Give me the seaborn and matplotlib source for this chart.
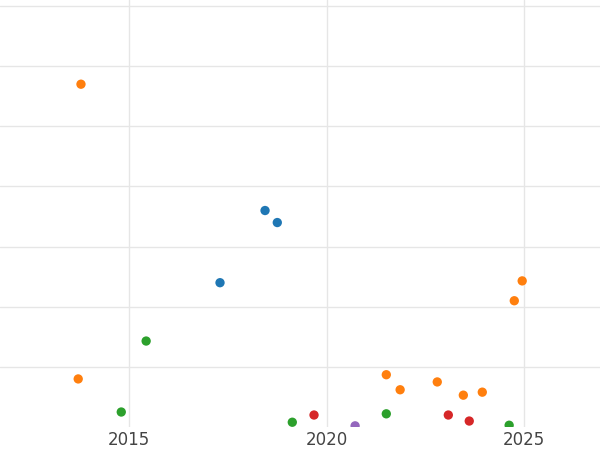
import matplotlib
matplotlib.use("Agg")
import matplotlib.pyplot as plt
import seaborn as sns
import pandas as pd

years_orange = [2013.78, 2013.71, 2021.51, 2021.86, 2022.80, 2023.46, 2023.94, 2024.75, 2024.95]
vals_orange = [5.70, 0.80, 0.87, 0.62, 0.75, 0.53, 0.58, 2.10, 2.43]
years_blue = [2018.44, 2018.75, 2017.30]
vals_blue = [3.60, 3.40, 2.40]
years_green = [2015.43, 2014.80, 2019.13, 2021.51, 2024.62]
vals_green = [1.43, 0.25, 0.08, 0.22, 0.03]
years_red = [2019.68, 2023.08, 2023.61]
vals_red = [0.20, 0.20, 0.10]
years_purple = [2020.72]
vals_purple = [0.02]

groups = [("A", years_blue, vals_blue), ("B", years_orange, vals_orange),
          ("C", years_green, vals_green), ("D", years_red, vals_red),
          ("E", years_purple, vals_purple)]
rows = []
for g, xs, ys in groups:
    for x, y in zip(xs, ys):
        rows.append({"year": x, "value": y, "group": g})
df = pd.DataFrame(rows)

sns.set_theme(style="whitegrid")
fig = plt.figure(figsize=(6, 4.5), dpi=100)
ax = fig.add_axes([0, 0.051, 1, 0.949])
palette = {"A": "#1f77b4", "B": "#ff7f0e", "C": "#2ca02c", "D": "#d62728", "E": "#9467bd"}
sns.scatterplot(data=df, x="year", y="value", hue="group", palette=palette,
                s=45, edgecolor="none", legend=False, ax=ax)
ax.set_xlim(2011.73, 2026.92)
ax.set_ylim(0, 7.1)
ax.set_xticks([2015, 2020, 2025])
ax.set_yticks([1, 2, 3, 4, 5, 6, 7])
ax.set_yticklabels([])
ax.tick_params(axis="x", labelsize=12, colors="#444444", pad=3, length=0)
ax.tick_params(axis="y", length=0)
ax.set_xlabel("")
ax.set_ylabel("")
for s in ax.spines.values():
    s.set_visible(False)
ax.grid(True, color="#e6e6e6", linewidth=1)
fig.savefig("out.png", dpi=100)
